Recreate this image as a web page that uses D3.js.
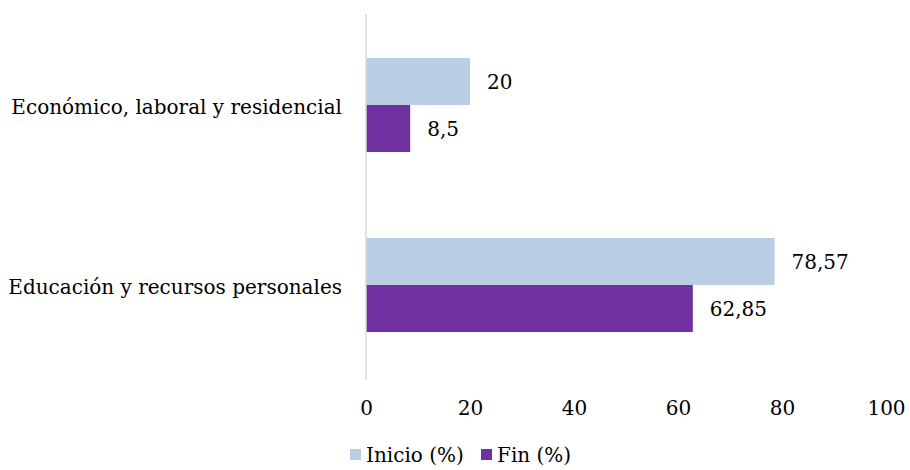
<!DOCTYPE html>
<html><head><meta charset="utf-8">
<script src="https://cdn.jsdelivr.net/npm/d3@7"></script>
<style>body{margin:0;background:#fff}svg{display:block}</style>
</head><body><svg id="c" width="910" height="470"></svg>
<script>
const categories = ["Económico, laboral y residencial", "Educación y recursos personales"];
const seriesNames = ["Inicio (%)", "Fin (%)"];
const inicio = [20, 78.57];
const fin = [8.5, 62.85];
const tickValues = [0, 20, 40, 60, 80, 100];
const colors = ["#B9CDE5", "#7030A0"];
const labelText = [["20", "78,57"], ["8,5", "62,85"]];

const FONT = "DejaVu Serif";
const FS = 20;
const svg = d3.select("#c");
const x = d3.scaleLinear().domain([0, 100]).range([366, 886]);
const y = d3.scaleBand().domain(categories).range([15, 375]).paddingInner(0).paddingOuter(0);
const inner = d3.scaleBand().domain([0, 1]).range([43, y.bandwidth() - 43]).paddingInner(0).paddingOuter(0);

const series = [inicio, fin];
const g = svg.append("g");
series.forEach((vals, si) => {
  g.selectAll(".b" + si).data(vals).join("rect")
    .attr("x", x(0))
    .attr("y", (d, i) => y(categories[i]) + inner(si))
    .attr("width", d => x(d) - x(0))
    .attr("height", inner.bandwidth())
    .attr("fill", colors[si]);
  g.selectAll(".l" + si).data(vals).join("text")
    .attr("x", d => x(d) + 17)
    .attr("y", (d, i) => y(categories[i]) + inner(si) + inner.bandwidth() / 2)
    .attr("dy", "0.35em")
    .attr("font-family", FONT).attr("font-size", FS).attr("fill", "#000")
    .text((d, i) => labelText[si][i]);
});

// axis line
svg.append("line").attr("x1", x(0)).attr("x2", x(0)).attr("y1", 14).attr("y2", 380)
  .attr("stroke", "#D9D9D9").attr("stroke-width", 1.5);

// x axis labels
const xAxis = d3.axisBottom(x).tickValues(tickValues).tickSize(0).tickPadding(0).tickFormat(d3.format("d"));
const xa = svg.append("g").attr("transform", "translate(0,408)").call(xAxis);
xa.select(".domain").remove();
xa.selectAll("text").attr("font-family", FONT).attr("font-size", FS).attr("fill", "#000").attr("dy", "0.35em");

// y labels
const yAxis = d3.axisLeft(y).tickSize(0).tickPadding(0);
const ya = svg.append("g").attr("transform", "translate(342,1.5)").call(yAxis);
ya.select(".domain").remove();
ya.selectAll("text").attr("font-family", FONT).attr("font-size", FS).attr("fill", "#000").attr("dy", "0.35em");

// legend
const leg = svg.append("g").attr("transform", "translate(350,455)");
const items = [{n: seriesNames[0], c: colors[0], x: 0}, {n: seriesNames[1], c: colors[1], x: 131}];
items.forEach(it => {
  leg.append("rect").attr("x", it.x).attr("y", -6).attr("width", 11).attr("height", 11).attr("fill", it.c);
  leg.append("text").attr("x", it.x + 16).attr("y", 0).attr("dy", "0.35em")
    .attr("font-family", FONT).attr("font-size", FS).attr("fill", "#000").text(it.n);
});
</script></body></html>
